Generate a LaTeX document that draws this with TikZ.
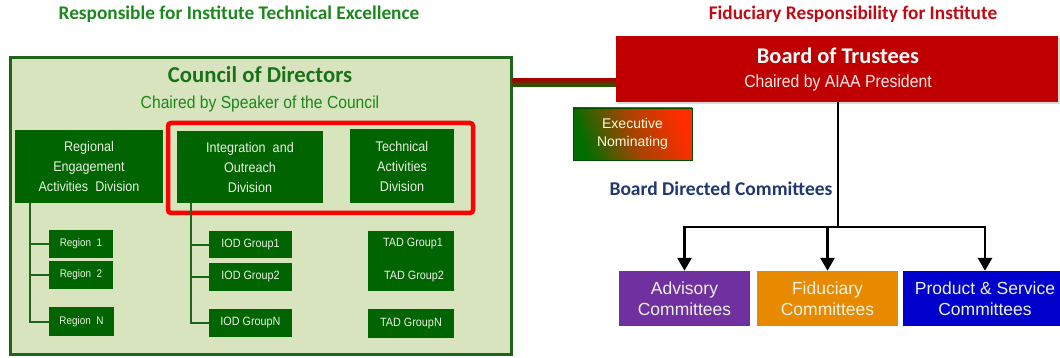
\documentclass[tikz,border=0pt]{standalone}
\usepackage{fontspec}
\setmainfont{Liberation Sans}
\newfontfamily\calib{Carlito}
\newfontfamily\narrowf{Liberation Sans}[FakeStretch=0.9]
\usetikzlibrary{arrows.meta,shadows}
\definecolor{titlegreen}{RGB}{28,135,28}
\definecolor{councilfill}{RGB}{215,228,189}
\definecolor{councilborder}{RGB}{30,100,25}
\definecolor{boxgreen}{RGB}{0,100,0}
\definecolor{boxtext}{RGB}{235,242,228}
\definecolor{boardred}{RGB}{192,0,0}
\definecolor{titlered}{RGB}{192,10,20}
\definecolor{navy}{RGB}{31,56,110}
\definecolor{advpurple}{RGB}{112,48,160}
\definecolor{fidorange}{RGB}{232,138,0}
\definecolor{prodblue}{RGB}{0,0,204}
\definecolor{exred}{RGB}{255,45,0}
\definecolor{exgreen}{RGB}{0,110,0}
\tikzset{
  gbox/.style={fill=boxgreen, text=boxtext, inner sep=0pt, align=center, font=\narrowf\fontsize{14}{20}\selectfont},
  smallbox/.style={fill=boxgreen, text=boxtext, inner sep=0pt, align=center, font=\narrowf\fontsize{12}{16}\selectfont},
  combox/.style={text=boxtext, inner sep=0pt, align=center, minimum height=55pt, font=\fontsize{17.5}{21}\selectfont},
  treeline/.style={draw=councilborder, line width=2pt},
  blackline/.style={draw=black, line width=2.8pt},
  arr/.style={blackline, -{Triangle[width=14pt,length=13pt]}},
  heading/.style={font=\calib\bfseries\fontsize{19.3}{22}\selectfont}
}
\begin{document}
\begin{tikzpicture}[x=1pt,y=-1pt]
\useasboundingbox (0,0) rectangle (1060,358);
\clip (0,0) rectangle (1060,358);
% titles
\node[heading, text=titlegreen] (lefttitle) at (239,14) {Responsible for Institute Technical Excellence};
\node[heading, text=titlered] (righttitle) at (853,14) {Fiduciary Responsibility for Institute};
% council
\node[draw=councilborder, line width=3pt, fill=councilfill, minimum width=501pt, minimum height=296pt, inner sep=0pt, drop shadow={opacity=0.25, shadow xshift=2pt, shadow yshift=-2pt}] (council) at (260.5,206) {};
\node[font=\calib\bfseries\fontsize{22.7}{26}\selectfont, text=titlegreen!85!black] (ctitle) at (260,75) {Council of Directors};
\node[font=\narrowf\fontsize{17.4}{20}\selectfont, text=titlegreen] (csub) at (260,104) {Chaired by Speaker of the Council};
% divisions
\node[gbox, minimum width=148pt, minimum height=73pt] (reg) at (89,166.5) {Regional\\Engagement\\Activities~~Division};
\node[gbox, minimum width=146pt, minimum height=72pt] (iod) at (250,167) {Integration~~and\\Outreach\\Division};
\node[gbox, minimum width=104pt, minimum height=74pt] (tad) at (402,166) {Technical\\Activities\\Division};
\draw[draw=red, line width=4.5pt, rounded corners=3pt] (168,123) rectangle (473,213);
% regions
\node[smallbox, minimum width=64pt, minimum height=28pt, font=\narrowf\fontsize{11}{14}\selectfont] (r1) at (81,244) {Region~~1};
\node[smallbox, minimum width=64pt, minimum height=28pt, font=\narrowf\fontsize{11}{14}\selectfont] (r2) at (81,275) {Region~~2};
\node[smallbox, minimum width=65pt, minimum height=29pt, font=\narrowf\fontsize{11}{14}\selectfont] (rn) at (81.5,321.5) {Region~~N};
\draw[treeline] ([xshift=15pt]reg.south west) |- (r1.west);
\draw[treeline] ([xshift=15pt]reg.south west) |- (r2.west);
\draw[treeline] ([xshift=15pt]reg.south west) |- (rn.west);
% IOD groups
\node[smallbox, minimum width=83pt, minimum height=27pt] (i1) at (250.5,244.5) {IOD Group1};
\node[smallbox, minimum width=83pt, minimum height=28pt] (i2) at (250.5,277) {IOD Group2};
\node[smallbox, minimum width=83pt, minimum height=28pt] (in) at (250.5,323) {IOD GroupN};
\draw[treeline] ([xshift=14pt]iod.south west) |- (i1.west);
\draw[treeline] ([xshift=14pt]iod.south west) |- (i2.west);
\draw[treeline] ([xshift=14pt]iod.south west) |- (in.west);
% TAD groups
\node[smallbox, minimum width=86pt, minimum height=60pt] (t12) at (411,261) {};
\node[font=\narrowf\fontsize{12}{16}\selectfont, text=boxtext] (t1) at (413,244) {TAD Group1};
\node[font=\narrowf\fontsize{12}{16}\selectfont, text=boxtext] (t2) at (414,277) {TAD Group2};
\node[smallbox, minimum width=86pt, minimum height=29pt] (tn) at (411,323.5) {TAD GroupN};
% board
\node[fill=boardred, minimum width=442pt, minimum height=66pt, inner sep=0pt, drop shadow={opacity=0.3, shadow xshift=2pt, shadow yshift=-2pt}] (board) at (837,69) {};
\node[font=\calib\bfseries\fontsize{22.4}{26}\selectfont, text=white] (btitle) at (838,56) {Board of Trustees};
\node[font=\narrowf\fontsize{17.5}{20}\selectfont, text=white!92!red] (bsub) at (838,83) {Chaired by AIAA President};
% link
\coordinate (linktop) at (0,79);
\coordinate (linkbot) at (0,87);
\shade[top color=boardred!85!black, bottom color=exgreen, middle color=boardred!50!exgreen] (council.east |- linktop) rectangle (board.west |- linkbot);
% executive nominating
\node[draw=exgreen!70!black, line width=0.8pt, top color=exred, bottom color=exgreen, middle color=exgreen!35!exred, shading angle=-70, minimum width=119pt, minimum height=52pt, inner sep=0pt, align=center, text=white!88!yellow, font=\fontsize{14}{18}\selectfont] (exec) at (632.5,134) {Executive\\Nominating};
% board directed
\node[font=\calib\bfseries\fontsize{19.5}{22}\selectfont, text=navy] (bdc) at (721,189) {Board Directed Committees};
% committees
\node[combox, fill=advpurple, minimum width=131pt] (adv) at (684.5,298.5) {Advisory\\Committees};
\node[combox, fill=fidorange, minimum width=141pt] (fid) at (827.5,298.5) {Fiduciary\\Committees};
\node[combox, fill=prodblue, minimum width=164pt] (prod) at (985,298.5) {Product \& Service\\Committees};
\coordinate (junction) at (838,227);
\draw[blackline] (board.south -| junction) -- (junction);
\draw[blackline, line cap=rect] (adv.north |- junction) -- (prod.north |- junction);
\draw[arr] (adv.north |- junction) -- (adv.north);
\draw[arr] (fid.north |- junction) -- (fid.north);
\draw[arr] (prod.north |- junction) -- (prod.north);
\end{tikzpicture}
\end{document}
